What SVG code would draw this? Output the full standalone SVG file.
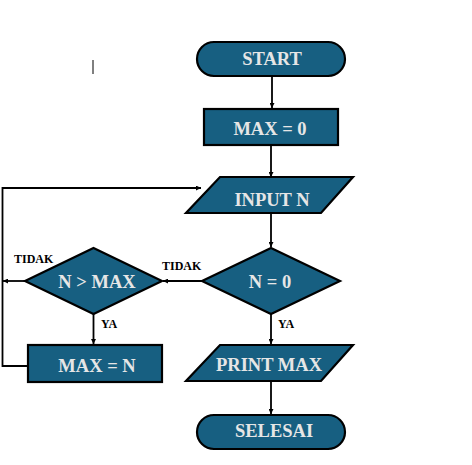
<svg xmlns="http://www.w3.org/2000/svg" width="472" height="465" viewBox="0 0 472 465">
<style>
.n{fill:#175f81;stroke:#000;stroke-width:2.2}
.t{font-family:"Liberation Serif","Times New Roman",serif;font-weight:bold;font-size:18.5px;fill:#e6e6e6;text-anchor:middle}
.l{font-family:"Liberation Serif","Times New Roman",serif;font-weight:bold;font-size:12px;fill:#000}
.c{fill:none;stroke:#000;stroke-width:1.8}
</style>
<defs>
<marker id="a" viewBox="0 0 10 10" refX="10" refY="5" markerWidth="5" markerHeight="5" markerUnits="userSpaceOnUse" orient="auto">
<path d="M0,0L10,5L0,10z" fill="#000"/>
</marker>
</defs>
<rect width="472" height="465" fill="#fff"/>
<line x1="93" y1="60" x2="93" y2="74" stroke="#000" stroke-width="1"/>
<g id="connectors">
<line class="c" x1="272" y1="76" x2="272" y2="108" marker-end="url(#a)"/>
<line class="c" x1="271" y1="145" x2="271" y2="177" marker-end="url(#a)"/>
<line class="c" x1="271" y1="213" x2="271" y2="247" marker-end="url(#a)"/>
<line class="c" x1="202" y1="281" x2="163" y2="281" marker-end="url(#a)"/>
<line class="c" x1="25" y1="281" x2="3" y2="281" marker-end="url(#a)"/>
<line class="c" x1="93.5" y1="314" x2="93.5" y2="344" marker-end="url(#a)"/>
<line class="c" x1="271" y1="314" x2="271" y2="344" marker-end="url(#a)"/>
<line class="c" x1="271" y1="381" x2="271" y2="414" marker-end="url(#a)"/>
<polyline class="c" points="28,366 2.5,366 2.5,188 201,188" marker-end="url(#a)"/>
<text class="l" x="14" y="263">TIDAK</text>
<text class="l" x="162" y="270">TIDAK</text>
<text class="l" x="101" y="328">YA</text>
<text class="l" x="278" y="328">YA</text>
</g>
<g id="start">
<rect class="n" x="197" y="42" width="148" height="34" rx="17"/>
<text class="t" x="272" y="65">START</text>
</g>
<g id="max0">
<rect class="n" x="204" y="109" width="134" height="36"/>
<text class="t" x="270" y="135">MAX = 0</text>
</g>
<g id="inputN">
<polygon class="n" points="220,177 353,177 321,213 186,213"/>
<text class="t" x="272" y="206">INPUT N</text>
</g>
<g id="nEq0">
<polygon class="n" points="271,248 340,281 271,314 202,281"/>
<text class="t" x="270" y="288">N = 0</text>
</g>
<g id="nGtMax">
<polygon class="n" points="93.5,248 162,281 93.5,314 25,281"/>
<text class="t" x="97" y="288">N &gt; MAX</text>
</g>
<g id="maxN">
<rect class="n" x="28" y="345" width="134" height="37"/>
<text class="t" x="97" y="372">MAX = N</text>
</g>
<g id="printMax">
<polygon class="n" points="220,345 353,345 321,381 186,381"/>
<text class="t" x="269" y="371">PRINT MAX</text>
</g>
<g id="selesai">
<rect class="n" x="197" y="415" width="148" height="34" rx="17"/>
<text class="t" x="274" y="437">SELESAI</text>
</g>
</svg>
